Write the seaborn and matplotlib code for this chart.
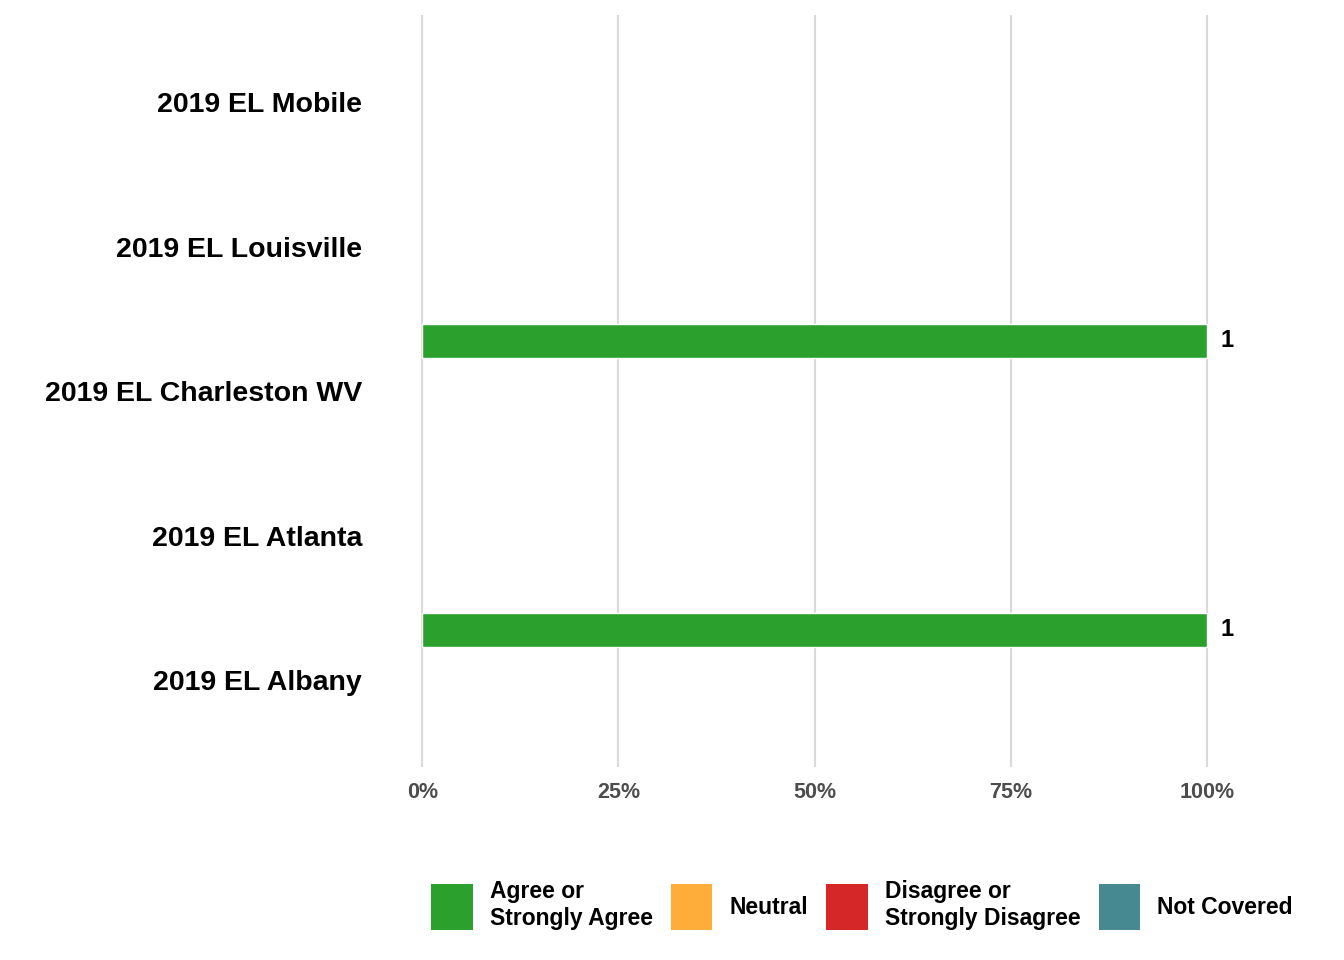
import pandas as pd
import seaborn as sns
import matplotlib.pyplot as plt
from matplotlib.patches import Patch
from matplotlib.colors import to_rgba

# Data
sites = ["2019 EL Mobile", "2019 EL Louisville", "2019 EL Charleston WV",
         "2019 EL Atlanta", "2019 EL Albany"]
responses = ["Agree or\nStrongly Agree", "Neutral", "Disagree or\nStrongly Disagree", "Not Covered"]
colors = ["#2ca02c", "#ffad3a", "#d62728", "#468990"]

bar_site = ["2019 EL Charleston WV", "2019 EL Albany"]
bar_response = ["Agree or\nStrongly Agree", "Agree or\nStrongly Agree"]
bar_pct = [100, 100]
bar_count = [1, 1]

x_ticks = [0, 25, 50, 75, 100]
x_ticklabels = ["0%", "25%", "50%", "75%", "100%"]

df = pd.DataFrame({"site": bar_site, "response": bar_response,
                   "pct": bar_pct, "count": bar_count})

sns.set_style("white")
plt.rcParams["font.family"] = ["Liberation Sans", "DejaVu Sans"]

fig = plt.figure(figsize=(13.44, 9.6), dpi=100)
ax = fig.add_axes([383 / 1344, 0.201, (1246 - 383) / 1344, 0.783])

palette = dict(zip(responses, colors))
sns.barplot(data=df, x="pct", y="site", hue="response", order=sites,
            hue_order=responses, palette=palette, width=0.93, dodge=True,
            orient="h", legend=False, saturation=1, ax=ax)

# count labels at bar ends
for cont in ax.containers:
    bars = [b for b in cont if b is not None]
    if not bars:
        continue
    fc = tuple(round(v, 3) for v in bars[0].get_facecolor())
    resp = [r for r in responses if tuple(round(v, 3) for v in to_rgba(palette[r])) == fc]
    sub = df[df["response"] == resp[0]] if resp else df
    for b, c in zip(bars, sub["count"]):
        ax.annotate(str(c), (b.get_x() + b.get_width(), b.get_y() + b.get_height() / 2),
                    xytext=(10, 0), textcoords="offset points", ha="left", va="center",
                    fontsize=17, fontweight="bold", color="black")

ax.set_xlim(-5, 105)
ax.set_ylim(4.6, -0.6)
ax.set_xticks(x_ticks)
ax.set_xticklabels(x_ticklabels, fontsize=15.5, fontweight="bold", color="#4d4d4d")
ax.tick_params(axis="x", length=0, pad=11)
ax.tick_params(axis="y", length=0, pad=15)
for lab in ax.get_yticklabels():
    lab.set_fontsize(20.5)
    lab.set_fontweight("bold")
    lab.set_color("black")
ax.set_xlabel("")
ax.set_ylabel("")
ax.grid(axis="x", color="#d9d9d9", linewidth=1.5)
ax.grid(axis="y", visible=False)
ax.set_axisbelow(True)
for s in ax.spines.values():
    s.set_visible(False)

handles = [Patch(facecolor=palette[r], edgecolor="none", label=r) for r in responses]
fig.legend(handles=handles, loc="center", bbox_to_anchor=(862 / 1344, 0.057),
           ncol=4, frameon=False, prop={"size": 16.5, "weight": "bold"},
           labelcolor="black", handlelength=1.8, handleheight=2.7,
           handletextpad=0.75, columnspacing=0.8)

fig.savefig("out.png", dpi=100, facecolor="white")
